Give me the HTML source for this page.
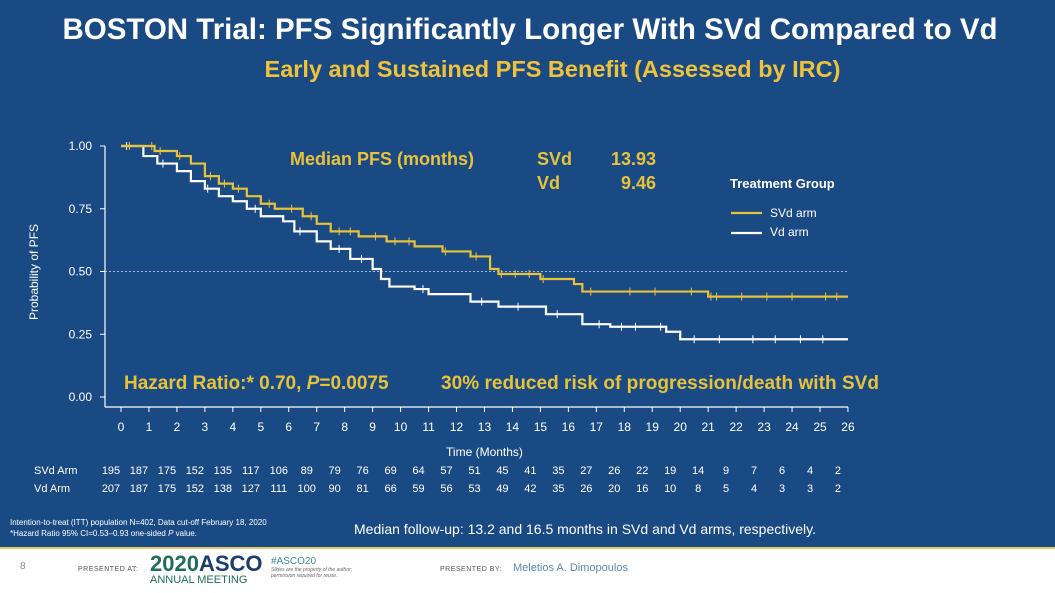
<!DOCTYPE html>
<html><head><meta charset="utf-8"><style>
body{margin:0;width:1055px;height:593px;overflow:hidden;font-family:"Liberation Sans",sans-serif;background:#fff}
#slide{position:absolute;left:0;top:0;width:1055px;height:547px;background:#1a4a84}
.t{position:absolute;white-space:nowrap}
</style></head><body>
<div id="slide"></div>
<div class="t" style="left:0;width:1060px;text-align:center;top:13px;font-size:29.5px;font-weight:bold;color:#fff">BOSTON Trial: PFS Significantly Longer With SVd Compared to Vd</div>
<div class="t" style="left:0;width:1105px;text-align:center;top:56px;font-size:23.5px;font-weight:bold;color:#f0c23c">Early and Sustained PFS Benefit (Assessed by IRC)</div>
<svg id="chart" width="1055" height="547" style="position:absolute;left:0;top:0"></svg>
<div class="t" style="left:10px;top:517px;font-size:8px;color:#fff;line-height:11px">Intention-to-treat (ITT) population N=402, Data cut-off February 18, 2020<br>*Hazard Ratio 95% CI=0.53–0.93 one-sided <i>P</i> value.</div>
<div class="t" style="left:354px;top:521px;font-size:14px;color:#fff">Median follow-up: 13.2 and 16.5 months in SVd and Vd arms, respectively.</div>
<div style="position:absolute;left:0;top:547px;width:1055px;height:2px;background:#e8c96a"></div>
<div class="t" style="left:20px;top:561px;font-size:10px;color:#888">8</div>
<div class="t" style="left:78px;top:566px;font-size:7px;color:#555;letter-spacing:.5px">PRESENTED AT:</div>
<div class="t" style="left:150px;top:553px;font-size:22px;font-weight:bold;color:#1e6e5a;line-height:22px">2020<span style="color:#1a3d6e">ASCO</span><div style="font-size:11px;font-weight:normal;color:#1e6e5a;line-height:11px">ANNUAL MEETING</div></div>
<div class="t" style="left:271px;top:556px;font-size:10px;color:#3a8a9a;line-height:11px">#ASCO20<div style="font-size:5px;color:#666;line-height:6px;font-style:italic">Slides are the property of the author;<br>permission required for reuse.</div></div>
<div class="t" style="left:440px;top:566px;font-size:7px;color:#555;letter-spacing:.5px">PRESENTED BY:</div>
<div class="t" style="left:513px;top:562px;font-size:11px;color:#5a8ab0">Meletios A. Dimopoulos</div>
<script>
const svdT=[0,1.2,2,2.5,3,3.5,4,4.5,5,5.5,6.5,7,7.5,8.5,9.5,10.5,11.5,12.5,13.2,13.5,15,16.2,16.5,21,26];
const svdS=[1,0.98,0.96,0.93,0.88,0.85,0.83,0.80,0.77,0.75,0.72,0.69,0.66,0.64,0.62,0.60,0.58,0.56,0.51,0.49,0.47,0.45,0.42,0.40,0.40];
const vdT=[0,0.8,1.3,2,2.5,3,3.5,4,4.5,5,5.8,6.2,7,7.5,8.2,9,9.3,9.6,10.5,11,12.5,13.5,15.2,16.5,17.5,19.5,20,26];
const vdS=[1,0.96,0.93,0.90,0.86,0.83,0.80,0.78,0.75,0.72,0.70,0.66,0.62,0.59,0.55,0.51,0.47,0.44,0.43,0.41,0.38,0.36,0.33,0.29,0.28,0.26,0.23,0.23];
const svdCens=[0.3,1.1,1.4,2.1,3.2,3.7,4.2,5.3,6.1,6.8,7.8,8.2,9.1,9.8,10.3,11.6,12.7,13.6,14.1,14.6,15.1,16.8,18.2,19.1,20.4,21.1,21.3,22.2,23.1,24.0,25.2,25.6];
const vdCens=[0.2,1.5,3.1,4.8,6.4,7.8,8.6,10.8,12.9,14.2,15.6,17.1,17.9,18.4,19.3,20.5,21.4,22.6,23.4,24.3,25.1];
const xTicks=[0,1,2,3,4,5,6,7,8,9,10,11,12,13,14,15,16,17,18,19,20,21,22,23,24,25,26];
const yTicks=[0,0.25,0.5,0.75,1.0];
const yLabels=["0.00","0.25","0.50","0.75","1.00"];
const svdRisk=[195,187,175,152,135,117,106,89,79,76,69,64,57,51,45,41,35,27,26,22,19,14,9,7,6,4,2];
const vdRisk=[207,187,175,152,138,127,111,100,90,81,66,59,56,53,49,42,35,26,20,16,10,8,5,4,3,3,2];
const svg=document.getElementById('chart');const NS='http://www.w3.org/2000/svg';
const X=t=>121+t*27.96, Y=s=>397-s*251;
function mk(tag,a,txt){const e=document.createElementNS(NS,tag);for(const k in a)e.setAttribute(k,a[k]);if(txt!=null)e.textContent=txt;svg.appendChild(e);return e;}
const GOLD='#e8c23a';
let e=mk('line',{x1:105,y1:146,x2:105,y2:407,stroke:'#fff','stroke-width':1.2});

e=mk('line',{x1:105,y1:407,x2:X(26),y2:407,stroke:'#fff','stroke-width':1.2});

yTicks.forEach((v,i)=>{mk('line',{x1:100,x2:105,y1:Y(v),y2:Y(v),stroke:'#fff'});
e=mk('text',{x:92,y:Y(v)+4,fill:'#fff','font-size':12,'text-anchor':'end'},yLabels[i]);
});
xTicks.forEach(v=>{mk('line',{x1:X(v),x2:X(v),y1:407,y2:412,stroke:'#fff'});
e=mk('text',{x:X(v),y:431,fill:'#fff','font-size':12,'text-anchor':'middle'},v);
});
e=mk('line',{x1:105,x2:X(26),y1:Y(0.5),y2:Y(0.5),stroke:'#cfe0f5','stroke-width':0.8,'stroke-dasharray':'2,2'});

e=mk('text',{x:0,y:0,fill:'#fff','font-size':12,'text-anchor':'middle',transform:'translate(38,272) rotate(-90)'},'Probability of PFS');

e=mk('text',{x:X(13),y:456,fill:'#fff','font-size':12,'text-anchor':'middle'},'Time (Months)');

function stepPath(T,S){let d=`M${X(T[0])},${Y(S[0])}`;for(let i=1;i<T.length;i++){d+=` H${X(T[i])} V${Y(S[i])}`;}return d;}
function survAt(T,S,t){let s=S[0];for(let i=0;i<T.length;i++)if(T[i]<=t)s=S[i];return s;}
function curve(T,S,C,col,name){
 e=mk('path',{d:stepPath(T,S),fill:'none',stroke:col,'stroke-width':2.2});
 
 C.forEach(t=>{const y=Y(survAt(T,S,t));e=mk('line',{x1:X(t),x2:X(t),y1:y-4,y2:y+4,stroke:col,'stroke-width':1});
 });
}
curve(vdT,vdS,vdCens,'#fff','vd-curve');
curve(svdT,svdS,svdCens,GOLD,'svd-curve');
const txt=(x,y,s,t,o,n)=>{e=mk('text',Object.assign({x,y,fill:GOLD,'font-size':s,'font-weight':'bold'},o||{}),t);};
txt(290,165,18,'Median PFS (months)',{},'median-pfs-label');
txt(537,165,18,'SVd',{},'median-svd-label');txt(656,165,18,'13.93',{'text-anchor':'end'},'median-svd-value');
txt(537,189,18,'Vd',{},'median-vd-label');txt(656,189,18,'9.46',{'text-anchor':'end'},'median-vd-value');
e=mk('text',{x:124,y:389,fill:GOLD,'font-size':19,'font-weight':'bold'});e.innerHTML='Hazard Ratio:* 0.70, <tspan font-style="italic">P</tspan>=0.0075';

txt(441,389,19,'30% reduced risk of progression/death with SVd',{textLength:438},'risk-reduction-text');
e=mk('text',{x:730,y:188,fill:'#fff','font-size':13,'font-weight':'bold'},'Treatment Group');
e=mk('line',{x1:731,x2:762,y1:213,y2:213,stroke:GOLD,'stroke-width':2.2});
e=mk('text',{x:770,y:217,fill:'#fff','font-size':12},'SVd arm');
e=mk('line',{x1:731,x2:762,y1:233,y2:233,stroke:'#fff','stroke-width':2.2});
e=mk('text',{x:770,y:236,fill:'#fff','font-size':12},'Vd arm');
e=mk('text',{x:34,y:474,fill:'#fff','font-size':11},'SVd Arm');
e=mk('text',{x:34,y:492,fill:'#fff','font-size':11},'Vd Arm');
svdRisk.forEach((v,i)=>{e=mk('text',{x:X(xTicks[i])-10,y:474,fill:'#fff','font-size':11,'text-anchor':'middle'},v);});
vdRisk.forEach((v,i)=>{e=mk('text',{x:X(xTicks[i])-10,y:492,fill:'#fff','font-size':11,'text-anchor':'middle'},v);});
</script>
</body></html>
